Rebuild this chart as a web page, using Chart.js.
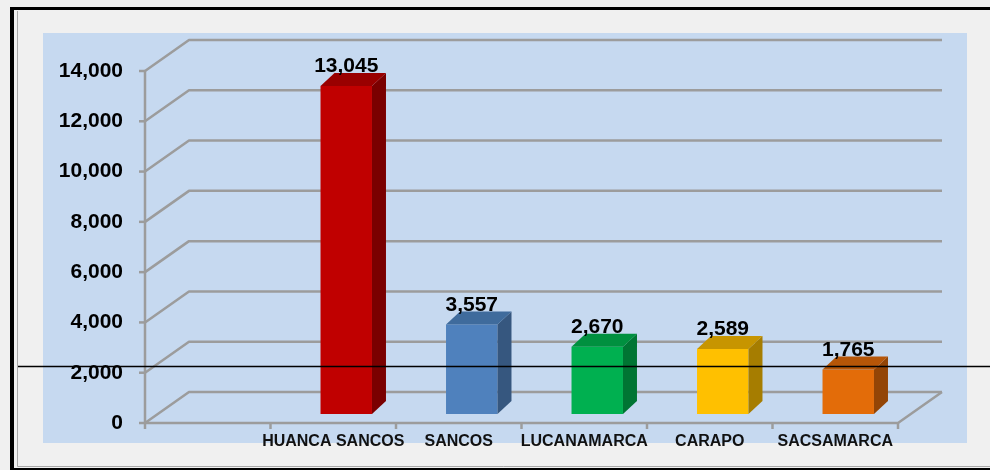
<!DOCTYPE html>
<html>
<head>
<meta charset="utf-8">
<script src="https://cdn.jsdelivr.net/npm/chart.js@4.4.1/dist/chart.umd.min.js"></script>
<style>
    html, body { margin: 0; padding: 0; background: #f0f0f0; }
    #wrap { width: 990px; height: 470px; }
</style>
</head>
<body>
<div id="wrap"><canvas id="chart" width="990" height="470"></canvas></div>
<script>
const categories = ['', 'HUANCA SANCOS', 'SANCOS', 'LUCANAMARCA', 'CARAPO', 'SACSAMARCA'];
const values = [null, 13045, 3557, 2670, 2589, 1765];
const yTicks = [0, 2000, 4000, 6000, 8000, 10000, 12000, 14000];

const frontColors = [null, '#c00000', '#4f81bd', '#00b050', '#ffc000', '#e36c09'];
const sideColors = [null, '#7a0000', '#36577f', '#007533', '#a67d00', '#934506'];
const topColors = [null, '#990000', '#3f6b9c', '#00903f', '#c79500', '#b65608'];

const FONT = "'Liberation Sans', Arial, sans-serif";
const GRID = '#9c9c9c';
const FRONT = { dx: -13, dy: 9 };   // bar plane -> front plane
const WALL = { dx: 44, dy: -31 };   // front plane -> back wall
const DEPTH = { dx: 14, dy: -13 };  // bar depth

const fmt = v => v.toLocaleString('en-US');

const frame3d = {
    id: 'frame3d',
    beforeDraw(chart) {
        const { ctx, width, height } = chart;
        ctx.save();
        ctx.fillStyle = '#f0f0f0';
        ctx.fillRect(0, 0, width, height);
        ctx.fillStyle = '#c6d9f0';
        ctx.fillRect(43, 33, 924, 410);
        // outer frame
        ctx.fillStyle = '#000';
        ctx.fillRect(10, 7, width - 10, 3);
        ctx.fillRect(10, 7, 4, height - 7);
        ctx.fillRect(14, 468, width - 14, 2);
        ctx.strokeStyle = '#a8a8a8';
        ctx.lineWidth = 1;
        ctx.beginPath();
        ctx.moveTo(17.5, 11);
        ctx.lineTo(17.5, 466.5);
        ctx.lineTo(width, 466.5);
        ctx.stroke();
        ctx.restore();
    },
    beforeDatasetsDraw(chart) {
        const { ctx, scales: { x, y } } = chart;
        const left = x.left + FRONT.dx;
        const right = x.right + FRONT.dx;
        const fy = v => y.getPixelForValue(v) + FRONT.dy;
        ctx.save();
        ctx.strokeStyle = GRID;
        ctx.lineWidth = 2.5;
        ctx.lineJoin = 'round';
        yTicks.forEach(v => {
            const py = fy(v);
            ctx.beginPath();
            ctx.moveTo(left, py);
            ctx.lineTo(left + WALL.dx, py + WALL.dy);
            ctx.lineTo(right + WALL.dx, py + WALL.dy);
            ctx.stroke();
            ctx.beginPath();
            ctx.moveTo(left - 6, py);
            ctx.lineTo(left, py);
            ctx.stroke();
        });
        const p0 = fy(0);
        ctx.beginPath();
        ctx.moveTo(left, fy(yTicks[yTicks.length - 1]));
        ctx.lineTo(left, p0);
        ctx.lineTo(right, p0);
        ctx.lineTo(right + WALL.dx, p0 + WALL.dy);
        ctx.stroke();
        const step = (right - left) / categories.length;
        for (let i = 0; i <= categories.length; i++) {
            const bx = left + i * step;
            ctx.beginPath();
            ctx.moveTo(bx, p0);
            ctx.lineTo(bx, p0 + 6);
            ctx.stroke();
        }
        ctx.restore();
    },
    afterDatasetsDraw(chart) {
        const { ctx } = chart;
        const meta = chart.getDatasetMeta(0);
        ctx.save();
        meta.data.forEach((bar, i) => {
            if (values[i] == null) return;
            const { x, y, base, width } = bar.getProps(['x', 'y', 'base', 'width'], true);
            const l = x - width / 2, r = x + width / 2;
            ctx.fillStyle = sideColors[i];
            ctx.beginPath();
            ctx.moveTo(r, y);
            ctx.lineTo(r + DEPTH.dx, y + DEPTH.dy);
            ctx.lineTo(r + DEPTH.dx, base + DEPTH.dy);
            ctx.lineTo(r, base);
            ctx.closePath();
            ctx.fill();
            ctx.fillStyle = topColors[i];
            ctx.beginPath();
            ctx.moveTo(l, y);
            ctx.lineTo(l + DEPTH.dx, y + DEPTH.dy);
            ctx.lineTo(r + DEPTH.dx, y + DEPTH.dy);
            ctx.lineTo(r, y);
            ctx.closePath();
            ctx.fill();
            ctx.fillStyle = '#000';
            ctx.font = 'bold 21px ' + FONT;
            ctx.textAlign = 'center';
            ctx.textBaseline = 'alphabetic';
            ctx.fillText(fmt(values[i]), x, y - 14);
        });
        ctx.restore();
    },
    afterDraw(chart) {
        const { ctx, width } = chart;
        ctx.save();
        ctx.strokeStyle = '#000';
        ctx.lineWidth = 1.5;
        ctx.beginPath();
        ctx.moveTo(18, 366.5);
        ctx.lineTo(width, 366.5);
        ctx.stroke();
        ctx.restore();
    }
};

new Chart(document.getElementById('chart'), {
    type: 'bar',
    data: {
        labels: categories,
        datasets: [{
            data: values,
            backgroundColor: frontColors,
            borderWidth: 0,
            categoryPercentage: 1,
            barPercentage: 0.41
        }]
    },
    options: {
        responsive: false,
        animation: false,
        layout: { padding: { left: 0, top: 62, right: 79, bottom: 0 } },
        plugins: {
            legend: { display: false },
            tooltip: { enabled: false }
        },
        scales: {
            x: {
                grid: { display: false, drawTicks: false },
                border: { display: false },
                ticks: {
                    autoSkip: false,
                    maxRotation: 0,
                    minRotation: 0,
                    padding: 18,
                    labelOffset: FRONT.dx,
                    color: '#111',
                    font: { family: FONT, size: 16, weight: 'bold' }
                },
                afterFit: s => { s.height = 56; }
            },
            y: {
                min: 0,
                max: 14000,
                grid: { display: false, drawTicks: false },
                border: { display: false },
                afterBuildTicks: s => { s.ticks = yTicks.map(v => ({ value: v })); },
                ticks: {
                    padding: 35,
                    labelOffset: FRONT.dy,
                    color: '#000',
                    callback: v => fmt(v),
                    font: { family: FONT, size: 21, weight: 'bold' }
                },
                afterFit: s => { s.width = 158; }
            }
        }
    },
    plugins: [frame3d]
});
</script>
</body>
</html>
